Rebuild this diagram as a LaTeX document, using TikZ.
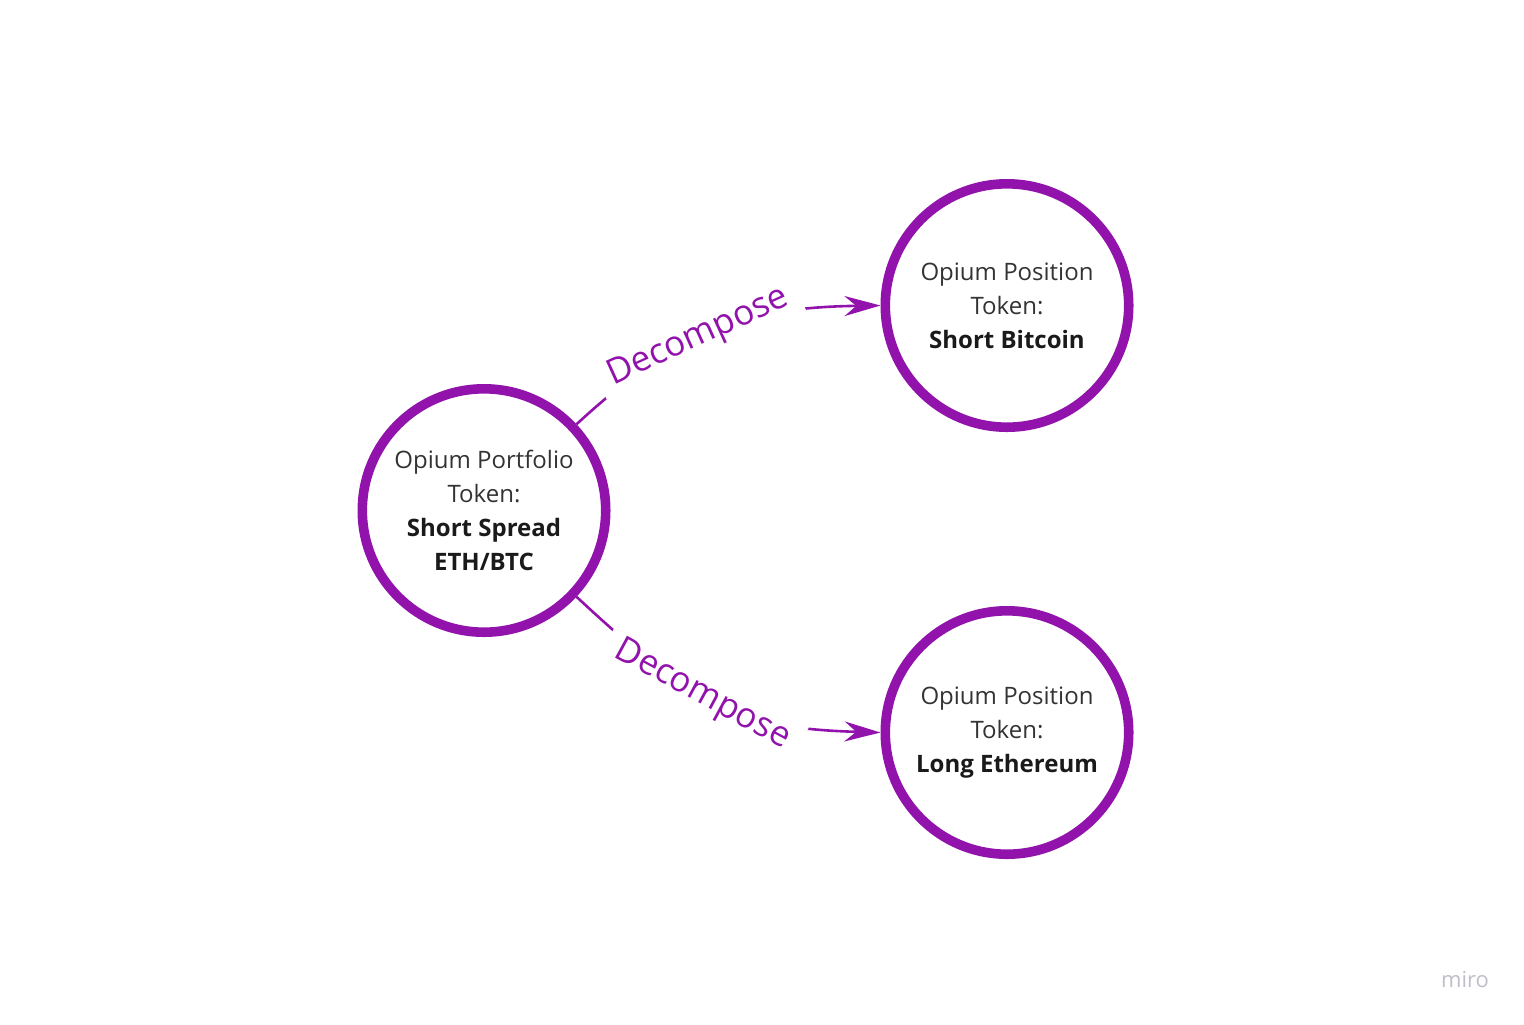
\documentclass[tikz,border=0pt]{standalone}
\usepackage{fontspec}
\setmainfont{Open Sans}
\usetikzlibrary{arrows.meta}
\definecolor{opurple}{RGB}{146,19,172}
\definecolor{otext}{RGB}{51,51,51}
\definecolor{obold}{RGB}{26,26,26}
\definecolor{mirogray}{RGB}{190,190,202}
\newcommand{\bl}[1]{\textbf{\color{obold}#1}}
\begin{document}
\begin{tikzpicture}[x=0.5pt,y=-0.5pt,
  token/.style={circle, draw=opurple, line width=4.8pt, minimum size=121.7pt,
    inner sep=0pt, align=center, font=\fontsize{12}{17}\selectfont, text=otext},
  conn/.style={draw=opurple, line width=1.3pt, -{Stealth[length=18pt,width=10pt]}},
  lbl/.style={sloped, fill=white, inner xsep=6pt, inner ysep=3pt, text=opurple,
    font=\fontsize{17.5}{20}\selectfont}]
\useasboundingbox (0,0) rectangle (1524,1024);
\node[token] (p) at (484,510.5) {Opium Portfolio\\Token:\\\bl{Short Spread}\\\bl{ETH/BTC}};
\node[token] (t) at (1007,305.5) {Opium Position\\Token:\\\bl{Short Bitcoin}};
\node[token] (b) at (1007,732.5) {Opium Position\\Token:\\\bl{Long Ethereum}};
\draw[conn] (p.43) .. controls +(100,-92) and +(-140,2) .. node[lbl,pos=0.445]{Decompose} (t.west);
\draw[conn] (p.-43) .. controls +(118,110) and +(-140,-4) .. node[lbl,pos=0.43]{Decompose} (b.west);
\node[text=mirogray, font=\fontsize{11}{13}\selectfont] (m) at (1465,980) {miro};
\end{tikzpicture}
\end{document}
